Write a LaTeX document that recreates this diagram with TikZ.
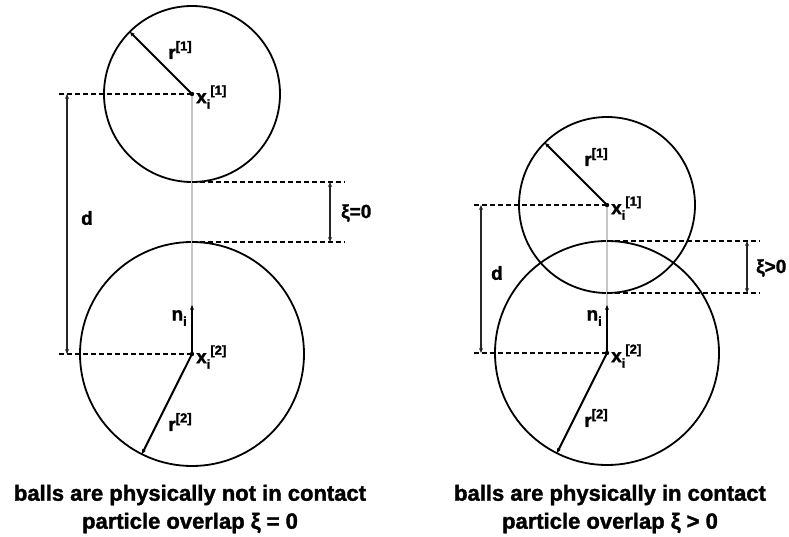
\documentclass[tikz,border=0pt]{standalone}
\usepackage{fontspec}
\setmainfont{Liberation Sans}[BoldFeatures={FakeBold=1.6}]
\usetikzlibrary{arrows.meta}
\newcommand{\sbx}[1]{\raisebox{-0.55ex}{\fontsize{13}{13}\selectfont #1}}
\newcommand{\spx}[1]{\raisebox{0.85ex}{\fontsize{13}{13}\selectfont #1}}

\begin{document}
\begin{tikzpicture}[x=1pt,y=-1pt,
    ball/.style={line width=1.8pt},
    guide/.style={line width=1.3pt,dash pattern=on 5pt off 3pt},
    dimarrow/.style={{Stealth[length=5pt,width=4pt]}-{Stealth[length=5pt,width=4pt]},line width=1.6pt,black!85},
    vec/.style={-{Stealth[length=5pt,width=4pt]},line width=2pt},
    axis/.style={gray!45,line width=1.2pt},
    lbl/.style={font=\fontsize{19}{19}\selectfont\bfseries,inner sep=1pt},
    caption/.style={font=\fontsize{22}{28}\selectfont\bfseries,align=center}]
  \useasboundingbox (0,0) rectangle (789,537);
  % left pair: not in contact
  \coordinate (a1) at (192,94);
  \coordinate (a2) at (192,354);
  \draw[ball] (a1) circle[radius=88pt];
  \draw[ball] (a2) circle[radius=112pt];
  \draw[axis] (a1) -- (a2);
  % d dimension
  \coordinate (ad1) at (57,94);
  \coordinate (ad2) at (57,354);
  \coordinate (adt) at (67,94);
  \coordinate (adb) at (67,354);
  \draw[guide] (a1) -- (ad1);
  \draw[guide] (a2) -- (ad2);
  \draw[dimarrow] (adt) -- (adb);
  \node[lbl] (ad) at (87,218) {d};
  % overlap dimension
  \coordinate (ag1) at (192,182);
  \coordinate (ag2) at (192,242);
  \coordinate (ae1) at (345,182);
  \coordinate (ae2) at (345,242);
  \coordinate (ant) at (330,182);
  \coordinate (anb) at (330,242);
  \draw[guide] (ag1) -- (ae1);
  \draw[guide] (ag2) -- (ae2);
  \draw[dimarrow] (ant) -- (anb);
  \node[lbl,anchor=west] (axi) at (340,213) {ξ=0};
  % radii and normal
  \path (a1) ++(135:88pt) coordinate (ar1);
  \path (a2) ++(243.4:112pt) coordinate (ar2);
  \coordinate (an) at (192,305);
  \draw[vec] (a1) -- (ar1);
  \draw[vec] (a2) -- (ar2);
  \draw[vec] (a2) -- (an);
  \fill (a1) circle[radius=2.2pt];
  \fill (a2) circle[radius=2.2pt];
  \node[lbl] (ar1l) at (180,50) {r\spx{[1]}};
  \node[lbl] (ar2l) at (180,422) {r\spx{[2]}};
  \node[lbl,anchor=east] (anl) at (188,318) {n\sbx{i}};
  \node[lbl,anchor=west] (ax1) at (195,97) {x\sbx{i}\spx{[1]}};
  \node[lbl,anchor=west] (ax2) at (195,357) {x\sbx{i}\spx{[2]}};
  \node[caption] (acap) at (190,509) {balls are physically not in contact\\particle overlap ξ = 0};
  % right pair: in contact
  \coordinate (b1) at (607,205);
  \coordinate (b2) at (607,353);
  \draw[ball] (b1) circle[radius=88pt];
  \draw[ball] (b2) circle[radius=112pt];
  \draw[axis] (b1) -- (b2);
  % d dimension
  \coordinate (bd1) at (472,205);
  \coordinate (bd2) at (472,353);
  \coordinate (bdt) at (481,205);
  \coordinate (bdb) at (481,353);
  \draw[guide] (b1) -- (bd1);
  \draw[guide] (b2) -- (bd2);
  \draw[dimarrow] (bdt) -- (bdb);
  \node[lbl] (bd) at (497,273) {d};
  % overlap dimension
  \coordinate (bg1) at (607,241);
  \coordinate (bg2) at (607,293);
  \coordinate (be1) at (760,241);
  \coordinate (be2) at (760,293);
  \coordinate (bnt) at (747,241);
  \coordinate (bnb) at (747,293);
  \draw[guide] (bg1) -- (be1);
  \draw[guide] (bg2) -- (be2);
  \draw[dimarrow] (bnt) -- (bnb);
  \node[lbl,anchor=west] (bxi) at (755,268) {ξ>0};
  % radii and normal
  \path (b1) ++(135:88pt) coordinate (br1);
  \path (b2) ++(243.4:112pt) coordinate (br2);
  \coordinate (bn) at (607,305);
  \draw[vec] (b1) -- (br1);
  \draw[vec] (b2) -- (br2);
  \draw[vec] (b2) -- (bn);
  \fill (b1) circle[radius=2.2pt];
  \fill (b2) circle[radius=2.2pt];
  \node[lbl] (br1l) at (596,157) {r\spx{[1]}};
  \node[lbl] (br2l) at (596,418) {r\spx{[2]}};
  \node[lbl,anchor=east] (bnl) at (603,318) {n\sbx{i}};
  \node[lbl,anchor=west] (bx1) at (610,208) {x\sbx{i}\spx{[1]}};
  \node[lbl,anchor=west] (bx2) at (610,356) {x\sbx{i}\spx{[2]}};
  \node[caption] (bcap) at (610,509) {balls are physically in contact\\particle overlap ξ > 0};
\end{tikzpicture}
\end{document}
